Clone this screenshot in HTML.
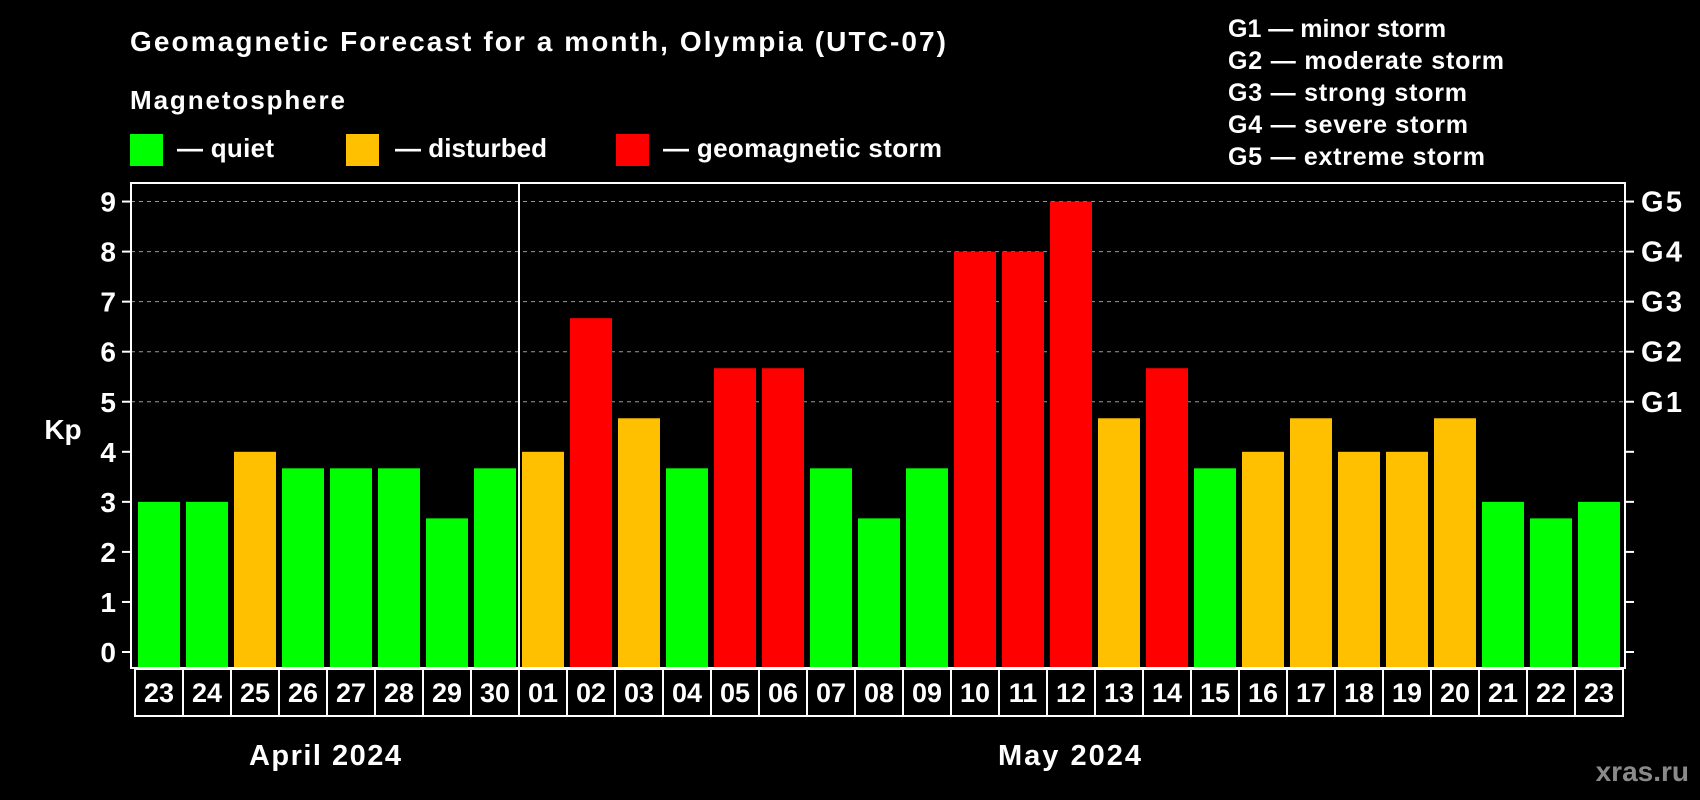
<!DOCTYPE html>
<html><head><meta charset="utf-8"><style>
html,body{margin:0;padding:0;background:#000;}
svg{display:block;font-family:"Liberation Sans",Arial,sans-serif;font-weight:bold;}
</style></head><body>
<svg id="chart" width="1700" height="800" viewBox="0 0 1700 800">
<rect width="1700" height="800" fill="#000"/>
<text x="130" y="51" font-size="28" fill="#fff" textLength="816" lengthAdjust="spacing">Geomagnetic Forecast for a month, Olympia (UTC-07)</text>
<text x="130" y="109" font-size="26" fill="#fff" textLength="215" lengthAdjust="spacing">Magnetosphere</text>
<g><rect x="130" y="134" width="33" height="32" fill="#00ff00"/><text x="177" y="157" font-size="26" fill="#fff" textLength="97" lengthAdjust="spacing">— quiet</text></g>
<g><rect x="346" y="134" width="33" height="32" fill="#ffc000"/><text x="395" y="157" font-size="26" fill="#fff" textLength="152" lengthAdjust="spacing">— disturbed</text></g>
<g><rect x="616" y="134" width="33" height="32" fill="#ff0000"/><text x="663" y="157" font-size="26" fill="#fff" textLength="279" lengthAdjust="spacing">— geomagnetic storm</text></g>
<g font-size="25" fill="#fff">
<text x="1228" y="37">G1 — minor storm</text>
<text x="1228" y="69" textLength="276" lengthAdjust="spacing">G2 — moderate storm</text>
<text x="1228" y="101" textLength="239" lengthAdjust="spacing">G3 — strong storm</text>
<text x="1228" y="133" textLength="240" lengthAdjust="spacing">G4 — severe storm</text>
<text x="1228" y="165" textLength="257" lengthAdjust="spacing">G5 — extreme storm</text>
</g>
<text x="63" y="439" font-size="28" fill="#fff" text-anchor="middle">Kp</text>
<text x="249" y="765" font-size="29" fill="#fff" textLength="152" lengthAdjust="spacing">April 2024</text>
<text x="998" y="765" font-size="29" fill="#fff" textLength="143" lengthAdjust="spacing">May 2024</text>
<text x="1689" y="781" font-size="28" fill="#8a8a8a" text-anchor="end">xras.ru</text>
<g id="grid"></g><g id="bars"></g><g id="axes"></g><g id="dates"></g>
</svg>
<script>
const days = ["23","24","25","26","27","28","29","30","01","02","03","04","05","06","07","08","09","10","11","12","13","14","15","16","17","18","19","20","21","22","23"];
const kp = [3,3,4,3.67,3.67,3.67,2.67,3.67,4,6.67,4.67,3.67,5.67,5.67,3.67,2.67,3.67,8,8,9,4.67,5.67,3.67,4,4.67,4,4,4.67,3,2.67,3];
const yTicks = [0,1,2,3,4,5,6,7,8,9];
const gLabels = ["G1","G2","G3","G4","G5"];
const gLevels = [5,6,7,8,9];
const NS="http://www.w3.org/2000/svg";
const plotL=131, plotR=1625, plotT=183, plotB=668;
const y0=652, yUnit=50.05;
const x0=135, step=48;
function yS(v){return y0 - v*yUnit;}
function xS(i){return x0 + i*step;}
function mk(tag,attrs,parent){const e=document.createElementNS(NS,tag);for(const k in attrs)e.setAttribute(k,attrs[k]);parent.appendChild(e);return e;}
const grid=document.getElementById('grid'), bars=document.getElementById('bars'), axes=document.getElementById('axes'), dates=document.getElementById('dates');
gLevels.forEach((v,i)=>{
  const l=mk('line',{x1:plotL,x2:plotR,y1:yS(v),y2:yS(v),stroke:'#999','stroke-width':1,'stroke-dasharray':'4,4'},grid);
  
  
  const t=mk('text',{x:1641,y:yS(v)+10,'font-size':29,fill:'#fff',textLength:41,lengthAdjust:'spacing'},axes);
  t.textContent=gLabels[i];
  
  
});
kp.forEach((v,i)=>{
  const c = v>=5?'#ff0000':(v>=4?'#ffc000':'#00ff00');
  const r=mk('rect',{x:xS(i)+3,y:yS(v),width:42,height:plotB-yS(v),fill:c},bars);
  
  
});
const frame=mk('rect',{x:plotL,y:plotT,width:plotR-plotL,height:plotB-plotT,fill:'none',stroke:'#fff','stroke-width':2},axes);


yTicks.forEach(v=>{
  mk('line',{x1:122,x2:plotL,y1:yS(v),y2:yS(v),stroke:'#fff','stroke-width':2},axes);
  mk('line',{x1:plotR,x2:1634,y1:yS(v),y2:yS(v),stroke:'#fff','stroke-width':2},axes);
  const t=mk('text',{x:116,y:yS(v)+10,'font-size':28,fill:'#fff','text-anchor':'end'},axes);
  t.textContent=v;
  
  
});
const sep=mk('line',{x1:xS(8),x2:xS(8),y1:plotT,y2:716,stroke:'#fff','stroke-width':2},axes);


days.forEach((d,i)=>{
  const b=mk('rect',{x:xS(i),y:669,width:step,height:47,fill:'none',stroke:'#fff','stroke-width':2},dates);
  
  
  const t=mk('text',{x:xS(i)+step/2,y:702,'font-size':27,fill:'#fff','text-anchor':'middle'},dates);
  t.textContent=d;
  
  
});
</script>
</body></html>
